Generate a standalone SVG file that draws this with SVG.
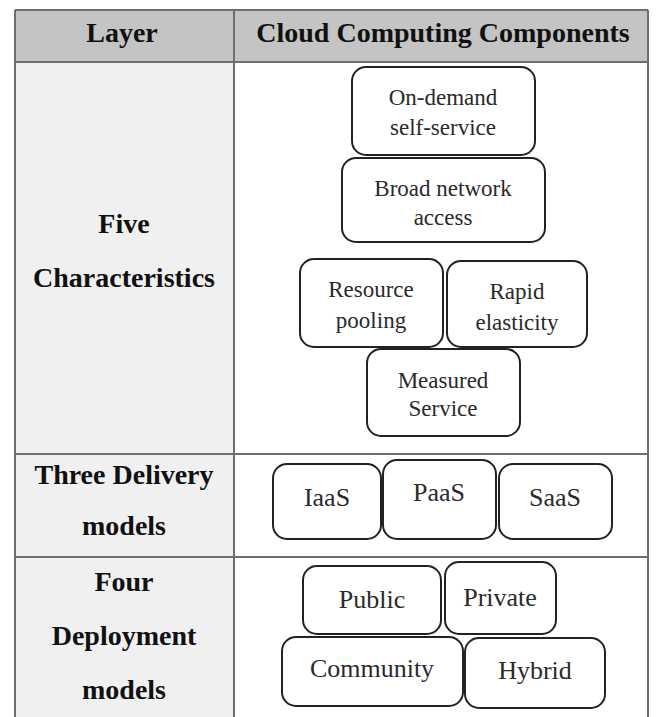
<svg xmlns="http://www.w3.org/2000/svg" width="657" height="717" viewBox="0 0 657 717">
<style>
.hdr{fill:#c4c4c4}
.lcell{fill:#f0f0f0}
.rcell{fill:#ffffff}
.grid{stroke:#6e6e6e;stroke-width:2;fill:none}
.lbl{font-family:"Liberation Serif","Times New Roman",serif;font-weight:bold;font-size:28px;fill:#111;text-anchor:middle}
.box{fill:#fff;stroke:#222;stroke-width:2}
.t1{font-family:"Liberation Serif","Times New Roman",serif;font-size:23px;fill:#2a2a2a;text-anchor:middle}
.t2{font-family:"Liberation Serif","Times New Roman",serif;font-size:26px;fill:#2a2a2a;text-anchor:middle}
</style>
<rect width="657" height="717" fill="#fff"/>
<g id="table">
<rect class="hdr" x="15" y="10" width="633" height="52"/>
<rect class="lcell" x="15" y="62" width="219" height="655"/>
<rect class="rcell" x="234" y="62" width="414" height="655"/>
<path class="grid" d="M15,10 H648 M15,10 V717 M648,10 V717 M234,10 V717 M15,62 H648 M15,454 H648 M15,557 H648"/>
<text class="lbl" x="122" y="42">Layer</text>
<text class="lbl" x="443" y="42">Cloud Computing Components</text>
<text class="lbl" x="124" y="233">Five</text>
<text class="lbl" x="124" y="287">Characteristics</text>
<text class="lbl" x="124" y="484">Three Delivery</text>
<text class="lbl" x="124" y="535">models</text>
<text class="lbl" x="124" y="591">Four</text>
<text class="lbl" x="124" y="645">Deployment</text>
<text class="lbl" x="124" y="699">models</text>
</g>
<g id="n-ondemand"><rect class="box" x="352" y="67" width="183" height="88" rx="14"/><text class="t1" x="443" y="105">On-demand</text><text class="t1" x="443" y="135">self-service</text></g>
<g id="n-broad"><rect class="box" x="342" y="158" width="203" height="84" rx="14"/><text class="t1" x="443" y="196">Broad network</text><text class="t1" x="443" y="225">access</text></g>
<g id="n-resource"><rect class="box" x="300" y="259" width="143" height="88" rx="14"/><text class="t1" x="371" y="297">Resource</text><text class="t1" x="371" y="328">pooling</text></g>
<g id="n-rapid"><rect class="box" x="447" y="261" width="140" height="86" rx="14"/><text class="t1" x="517" y="299">Rapid</text><text class="t1" x="517" y="330">elasticity</text></g>
<g id="n-measured"><rect class="box" x="367" y="349" width="153" height="87" rx="14"/><text class="t1" x="443" y="388">Measured</text><text class="t1" x="443" y="416">Service</text></g>
<g id="n-iaas"><rect class="box" x="273" y="464" width="108" height="75" rx="14"/><text class="t2" x="327" y="506">IaaS</text></g>
<g id="n-paas"><rect class="box" x="383" y="460" width="113" height="79" rx="14"/><text class="t2" x="439" y="501">PaaS</text></g>
<g id="n-saas"><rect class="box" x="499" y="464" width="113" height="75" rx="14"/><text class="t2" x="555" y="506">SaaS</text></g>
<g id="n-public"><rect class="box" x="303" y="566" width="138" height="68" rx="14"/><text class="t2" x="372" y="608">Public</text></g>
<g id="n-private"><rect class="box" x="445" y="562" width="111" height="72" rx="14"/><text class="t2" x="500" y="606">Private</text></g>
<g id="n-community"><rect class="box" x="282" y="637" width="181" height="69" rx="14"/><text class="t2" x="372" y="677">Community</text></g>
<g id="n-hybrid"><rect class="box" x="465" y="638" width="140" height="70" rx="14"/><text class="t2" x="535" y="679">Hybrid</text></g>
<g id="connectors"/>
</svg>
